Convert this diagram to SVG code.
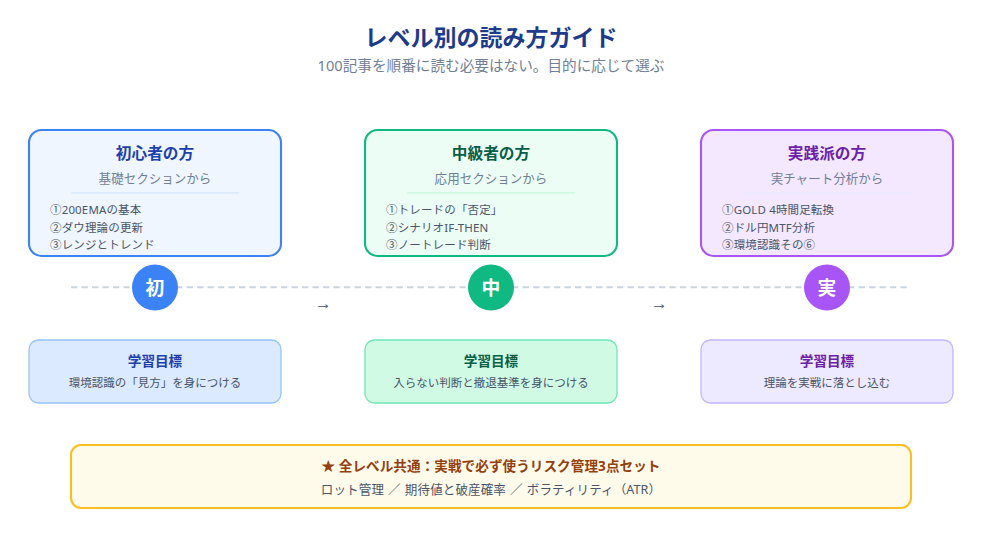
<svg xmlns="http://www.w3.org/2000/svg" width="982" height="542" viewBox="0 0 982 542">
<style>
text{font-family:"Noto Sans","Noto Sans CJK JP",sans-serif}
.m{text-anchor:middle}
.card{stroke-width:2.09}
.t{font-size:15.67px;font-weight:700;text-anchor:middle}
.s{font-size:12.54px;fill:#718096;text-anchor:middle}
.i{font-size:11.5px;fill:#4a5568;letter-spacing:.15px}
.div{stroke-width:1.8}
.g{stroke-width:1.3}
.gt{font-size:13.58px;font-weight:700;text-anchor:middle}
.gd{font-size:11.5px;fill:#4a5568;text-anchor:middle}
.c{font-size:18.8px;font-weight:700;fill:#fff;text-anchor:middle}
.a{font-family:"Liberation Sans",sans-serif;font-size:17px;fill:#4a5568;text-anchor:middle}
</style>
<rect width="982" height="542" fill="#fff"/>
<g id="header">
<text x="491" y="45.500" class="m" font-size="23" font-weight="700" fill="#1e3a8a">レベル別の読み方ガイド</text>
<text x="491" y="71" class="m" font-size="14.63" fill="#718096">100記事を順番に読む必要はない。目的に応じて選ぶ</text>
</g>
<g id="connectors">
<line x1="71" y1="287.300" x2="911" y2="287.300" stroke="#cbd5e1" stroke-width="2.09" stroke-dasharray="6.3 4.2"/>
<text x="323.300" y="309" class="a">→</text>
<text x="659.300" y="309" class="a">→</text>
</g>
<g id="card-beginner">
<rect class="card" x="29" y="130" width="252" height="126" rx="12.5" fill="#eff6ff" stroke="#3b82f6"/>
<text x="155" y="159" class="t" fill="#1e40af">初心者の方</text>
<text x="155" y="182.500" class="s">基礎セクションから</text>
<line class="div" x1="71" y1="192.800" x2="239" y2="192.800" stroke="#dbeafe"/>
<text x="50" y="214" class="i">①200EMAの基本</text>
<text x="50" y="232" class="i">②ダウ理論の更新</text>
<text x="50" y="249.300" class="i">③レンジとトレンド</text>
</g>
<g id="card-intermediate">
<rect class="card" x="365" y="130" width="252" height="126" rx="12.5" fill="#ecfdf5" stroke="#10b981"/>
<text x="491" y="159" class="t" fill="#065f46">中級者の方</text>
<text x="491" y="182.500" class="s">応用セクションから</text>
<line class="div" x1="407" y1="192.800" x2="575" y2="192.800" stroke="#d1fae5"/>
<text x="386" y="214" class="i">①トレードの「否定」</text>
<text x="386" y="232" class="i">②シナリオIF-THEN</text>
<text x="386" y="249.300" class="i">③ノートレード判断</text>
</g>
<g id="card-practical">
<rect class="card" x="701" y="130" width="252" height="126" rx="12.5" fill="#f3e8ff" stroke="#a855f7"/>
<text x="827" y="159" class="t" fill="#6b21a8">実践派の方</text>
<text x="827" y="182.500" class="s">実チャート分析から</text>
<line class="div" x1="743" y1="192.800" x2="911" y2="192.800" stroke="#ede9fe"/>
<text x="722" y="214" class="i">①GOLD 4時間足転換</text>
<text x="722" y="232" class="i">②ドル円MTF分析</text>
<text x="722" y="249.300" class="i">③環境認識その⑥</text>
</g>
<g id="step-beginner"><circle cx="155" cy="287.500" r="23" fill="#3b82f6"/><text x="155" y="295" class="c">初</text></g>
<g id="step-intermediate"><circle cx="491" cy="287.500" r="23" fill="#10b981"/><text x="491" y="295" class="c">中</text></g>
<g id="step-practical"><circle cx="827" cy="287.500" r="23" fill="#a855f7"/><text x="827" y="295" class="c">実</text></g>
<g id="goal-beginner">
<rect class="g" x="29" y="340" width="252" height="63" rx="9.400" fill="#dbeafe" stroke="#93c5fd"/>
<text x="155" y="365.500" class="gt" fill="#1e40af">学習目標</text>
<text x="155" y="386.500" class="gd">環境認識の「見方」を身につける</text>
</g>
<g id="goal-intermediate">
<rect class="g" x="365" y="340" width="252" height="63" rx="9.400" fill="#d1fae5" stroke="#6ee7b7"/>
<text x="491" y="365.500" class="gt" fill="#065f46">学習目標</text>
<text x="491" y="386.500" class="gd">入らない判断と撤退基準を身につける</text>
</g>
<g id="goal-practical">
<rect class="g" x="701" y="340" width="252" height="63" rx="9.400" fill="#ede9fe" stroke="#c4b5fd"/>
<text x="827" y="365.500" class="gt" fill="#6b21a8">学習目標</text>
<text x="827" y="386.500" class="gd">理論を実戦に落とし込む</text>
</g>
<g id="common">
<rect x="71" y="445" width="840" height="63" rx="10" fill="#fffbeb" stroke="#fbbf24" stroke-width="2.09"/>
<text x="491" y="471" class="m" font-size="13.58" font-weight="700" letter-spacing=".07" fill="#92400e">★ 全レベル共通：実戦で必ず使うリスク管理3点セット</text>
<text x="491" y="493.500" class="m" font-size="12.54" letter-spacing=".1" word-spacing=".75" fill="#4a5568">ロット管理 ／ 期待値と破産確率 ／ ボラティリティ（ATR）</text>
</g>
</svg>
